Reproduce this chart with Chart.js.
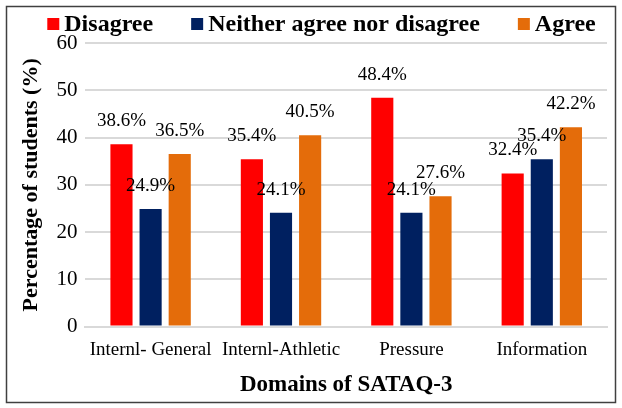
<!DOCTYPE html>
<html>
<head>
<meta charset="utf-8">
<script src="https://cdn.jsdelivr.net/npm/chart.js@4"></script>
<style>
  html, body { margin: 0; padding: 0; background: #fff; }
  #wrap { width: 622px; height: 408px; position: relative; }
</style>
</head>
<body>
<div id="wrap"><canvas id="c" width="622" height="408"></canvas></div>
<script>
const categories = ["Internl- General", "Internl-Athletic", "Pressure", "Information"];
const disagree = [38.6, 35.4, 48.4, 32.4];
const neither = [24.9, 24.1, 24.1, 35.4];
const agree = [36.5, 40.5, 27.6, 42.2];
const yTicks = [0, 10, 20, 30, 40, 50, 60];

const SERIF = '"Liberation Serif", "Times New Roman", serif';

// value labels above each bar
const barLabels = {
  id: "barLabels",
  afterDatasetsDraw(chart) {
    const { ctx } = chart;
    ctx.save();
    ctx.font = "19px " + SERIF;
    ctx.fillStyle = "#000";
    ctx.textAlign = "center";
    ctx.textBaseline = "middle";
    chart.data.datasets.forEach((ds, i) => {
      chart.getDatasetMeta(i).data.forEach((bar, j) => {
        ctx.fillText(ds.data[j].toFixed(1) + "%", bar.x, bar.y - 23);
      });
    });
    ctx.restore();
  },
};

// legend drawn by hand: small square, tight gap, wide spacing between items
const topLegend = {
  id: "topLegend",
  afterDraw(chart) {
    const { ctx } = chart;
    const box = 12, gap = 5, spacing = 38, cy = 24;
    ctx.save();
    ctx.font = "bold 24px " + SERIF;
    ctx.textBaseline = "middle";
    ctx.textAlign = "left";
    const items = chart.data.datasets.map((ds) => ({
      text: ds.label,
      color: ds.backgroundColor,
      w: box + gap + ctx.measureText(ds.label).width,
    }));
    const total = items.reduce((s, it) => s + it.w, 0) + spacing * (items.length - 1);
    let x = 321.5 - total / 2;
    items.forEach((it) => {
      ctx.fillStyle = it.color;
      ctx.fillRect(x, cy - box / 2, box, box);
      ctx.fillStyle = "#000";
      ctx.fillText(it.text, x + box + gap, cy + 1);
      x += it.w + spacing;
    });
    ctx.restore();
  },
};

// outer frame
const frame = {
  id: "frame",
  afterDraw(chart) {
    const { ctx } = chart;
    ctx.save();
    ctx.strokeStyle = "#404040";
    ctx.lineWidth = 1.5;
    ctx.strokeRect(6.5, 6.5, 609, 396);
    ctx.restore();
  },
};

new Chart(document.getElementById("c"), {
  type: "bar",
  data: {
    labels: categories,
    datasets: [
      { label: "Disagree", data: disagree, backgroundColor: "#FF0000" },
      { label: "Neither agree nor disagree", data: neither, backgroundColor: "#002060" },
      { label: "Agree", data: agree, backgroundColor: "#E46C0A" },
    ],
  },
  options: {
    responsive: false,
    animation: false,
    categoryPercentage: 0.67,
    barPercentage: 0.76,
    layout: { padding: { left: 14, right: 15, top: 43, bottom: 5 } },
    plugins: {
      legend: { display: false },
      tooltip: { enabled: false },
    },
    scales: {
      x: {
        grid: { display: false },
        border: { color: "#d9d9d9", width: 2 },
        ticks: { color: "#000", padding: 4, font: { family: SERIF, size: 19 } },
        title: {
          display: true,
          text: "Domains of SATAQ-3",
          color: "#000",
          font: { family: SERIF, size: 23, weight: "bold" },
          padding: { top: 6 },
        },
      },
      y: {
        min: 0,
        max: 60,
        afterBuildTicks(axis) {
          axis.ticks = yTicks.map((v) => ({ value: v }));
        },
        grid: { color: "#d9d9d9", lineWidth: 2, drawTicks: false },
        border: { display: false },
        ticks: { color: "#000", padding: 8, font: { family: SERIF, size: 21 } },
        title: {
          display: true,
          text: "Percentage of students (%)",
          color: "#000",
          font: { family: SERIF, size: 22, weight: "bold" },
          padding: { bottom: 4 },
        },
      },
    },
  },
  plugins: [barLabels, topLegend, frame],
});
</script>
</body>
</html>
